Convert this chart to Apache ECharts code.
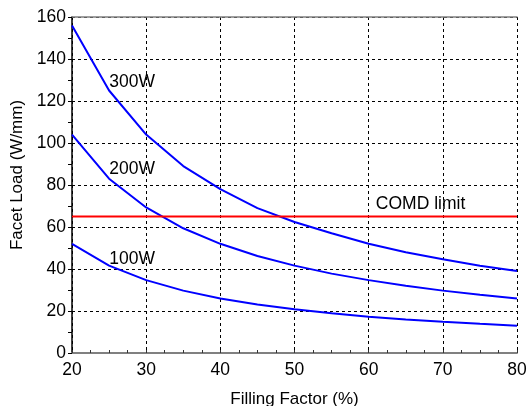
<!DOCTYPE html>
<html>
<head>
<meta charset="utf-8">
<script src="https://cdn.jsdelivr.net/npm/echarts@6/dist/echarts.min.js"></script>
<style>
  html, body { margin: 0; padding: 0; background: #fff; }
  #chart { width: 528px; height: 406px; }
</style>
</head>
<body>
<div id="chart"></div>
<script>
// filling factor (%)
const fillFactor = [20, 25, 30, 35, 40, 45, 50, 55, 60, 65, 70, 75, 80];
// facet load (W/mm) per output power
const load300 = [156, 125, 104, 89, 78, 69, 62.4, 57, 52, 48, 44.6, 41.6, 39];
const load200 = [104, 83, 69.3, 59.4, 52, 46.2, 41.6, 37.8, 34.7, 32, 29.7, 27.7, 26];
const load100 = [52, 41.6, 34.7, 29.7, 26, 23.1, 20.8, 18.9, 17.3, 16, 14.9, 13.9, 13];
const comdLimit = 65;

const labelTexts = ['300W', '200W', '100W', 'COMD limit'];
const labelX = [28.1, 28.1, 28.1, 67];
const labelY = [129, 87.6, 44.8, 71];

const font = 'Liberation Sans, Arial, sans-serif';

const toPairs = (ys) => fillFactor.map((x, i) => [x, ys[i]]);

const curve = (name, ys) => ({
  name,
  type: 'line',
  data: toPairs(ys),
  showSymbol: false,
  smooth: false,
  lineStyle: { color: '#0000ff', width: 2 },
  z: 3,
});

const chart = echarts.init(document.getElementById('chart'));
chart.setOption({
  animation: false,
  backgroundColor: '#fff',
  grid: { left: 72, right: 11, top: 17, bottom: 53, containLabel: false, outerBoundsMode: 'none' },
  xAxis: [
    {
      type: 'value',
      min: 20,
      max: 80,
      interval: 10,
      name: 'Filling Factor (%)',
      nameLocation: 'middle',
      nameGap: 38,
      nameTextStyle: { color: '#000', fontSize: 17, fontFamily: font },
      axisLine: { show: true, lineStyle: { color: '#808080', width: 2 } },
      axisTick: { show: true, inside: true, length: 3, lineStyle: { color: '#333', width: 1 } },
      minorTick: { show: true, splitNumber: 4, length: 3, lineStyle: { color: '#333' } },
      axisLabel: { color: '#000', fontSize: 17.5, fontFamily: font, margin: 8 },
      splitLine: { show: true, lineStyle: { color: '#000', type: [3, 3], width: 1 } },
    },
    {
      type: 'value',
      position: 'top',
      min: 20,
      max: 80,
      axisLine: { show: true, lineStyle: { color: '#808080', width: 1.5 } },
      axisTick: { show: false },
      axisLabel: { show: false },
      splitLine: { show: false },
    },
  ],
  yAxis: {
    type: 'value',
    min: 0,
    max: 160,
    interval: 20,
    name: 'Facet Load (W/mm)',
    nameLocation: 'middle',
    nameGap: 44,
    nameTextStyle: { color: '#000', fontSize: 17, fontFamily: font, padding: [0, 0, 0, 20] },
    axisLine: { show: true, lineStyle: { color: '#000', width: 1.5 } },
    axisTick: { show: true, length: 4, lineStyle: { color: '#000' } },
    minorTick: { show: true, splitNumber: 2, length: 4, lineStyle: { color: '#000' } },
    axisLabel: { color: '#000', fontSize: 17.5, fontFamily: font, margin: 6 },
    splitLine: { show: true, lineStyle: { color: '#000', type: [3, 3], width: 1 } },
  },
  series: [
    curve('300W', load300),
    curve('200W', load200),
    curve('100W', load100),
    {
      name: 'COMD limit',
      type: 'line',
      data: [[20, comdLimit], [80, comdLimit]],
      showSymbol: false,
      lineStyle: { color: '#ff0000', width: 2 },
      z: 4,
    },
    {
      name: 'labels',
      type: 'scatter',
      symbolSize: 0,
      itemStyle: { opacity: 1 },
      data: labelTexts.map((t, i) => ({ value: [labelX[i], labelY[i]], name: t })),
      label: {
        show: true,
        position: 'inside',
        formatter: (p) => p.name,
        color: '#000',
        opacity: 1,
        textBorderWidth: 0,
        fontSize: 17.5,
        fontFamily: font,
      },
      emphasis: { disabled: true },
      z: 5,
    },
  ],
});
</script>
</body>
</html>
